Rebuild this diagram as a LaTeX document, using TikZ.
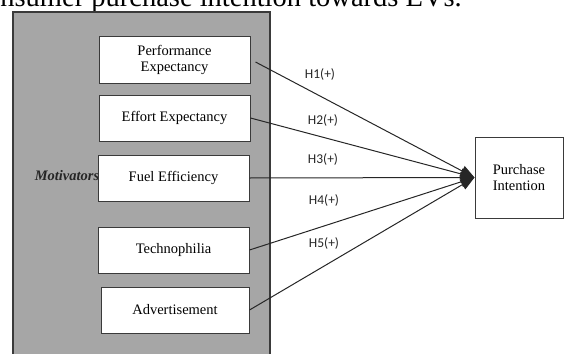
\documentclass[tikz,border=0pt]{standalone}
\usepackage{fontspec}
\setmainfont{Liberation Serif}
\newfontfamily\calibrifont{Carlito}
\usetikzlibrary{arrows.meta}
\definecolor{panelgray}{HTML}{A6A6A6}
\definecolor{edgegray}{HTML}{3A3A3A}
\definecolor{linegray}{HTML}{262626}
\tikzset{
  factor/.style={draw=edgegray, line width=1pt, fill=white, inner sep=0pt, align=center,
    font=\fontsize{14.5}{16.7}\selectfont},
  hyp/.style={draw=linegray, line width=1pt, -{Triangle[length=14pt,width=11pt]}},
  hlabel/.style={font=\calibrifont\fontsize{13.5}{15}\selectfont, text=black!85, inner sep=0pt}
}
\begin{document}
\begin{tikzpicture}[x=1pt,y=-1pt]
\useasboundingbox (0,0) rectangle (564,353);
\clip (0,0) rectangle (564,353);
% caption fragment
\node[anchor=base east, inner sep=0pt, font=\fontsize{28.5}{30}\selectfont] (caption) at (462,7) {nsumer purchase intention towards EVs.};
% gray panel
\path[fill=panelgray, draw=edgegray, line width=1.2pt] (13,12) rectangle (270,365);
\node[inner sep=0pt, font=\fontsize{14.5}{16}\selectfont\bfseries\itshape, text=black!85] (mot) at (67,176) {Motivators};
% factor boxes
\node[factor, minimum width=151pt, minimum height=46pt] (perf) at (174.5,60) {Performance\\Expectancy};
\node[factor, minimum width=151pt, minimum height=46pt] (effort) at (174.5,118) {Effort Expectancy};
\node[factor, minimum width=151pt, minimum height=46pt] (fuel) at (173.5,178) {Fuel Efficiency};
\node[factor, minimum width=151pt, minimum height=46pt] (techno) at (173.5,250) {Technophilia};
\node[factor, minimum width=148pt, minimum height=46pt] (adv) at (175,310) {Advertisement};
% outcome
\node[factor, minimum width=88pt, minimum height=81pt] (pi) at (519,177.5) {Purchase\\Intention};
% hypotheses
\draw[hyp] ([shift={(5,2)}]perf.east) -- (pi.west);
\draw[hyp] (effort.east) -- (pi.west);
\draw[hyp] (fuel.east) -- (pi.west);
\draw[hyp] (techno.east) -- (pi.west);
\draw[hyp] (adv.east) -- (pi.west);
\node[hlabel] (h1) at (320,74) {H1(+)};
\node[hlabel] (h2) at (323,120) {H2(+)};
\node[hlabel] (h3) at (323,159) {H3(+)};
\node[hlabel] (h4) at (324,200) {H4(+)};
\node[hlabel] (h5) at (324,243) {H5(+)};
\end{tikzpicture}
\end{document}
